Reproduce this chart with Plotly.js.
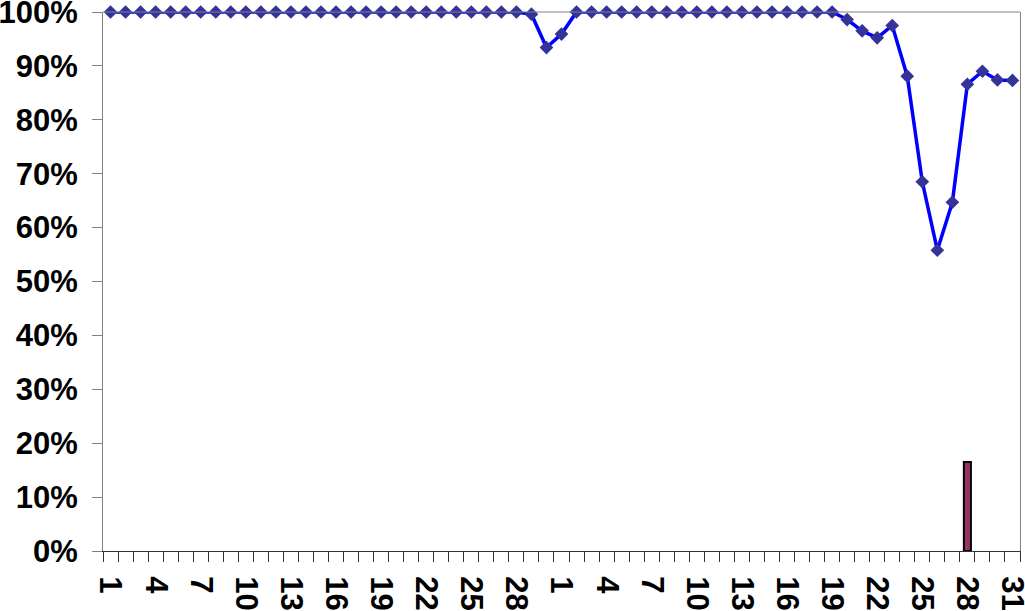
<!DOCTYPE html>
<html>
<head>
<meta charset="utf-8">
<script src="https://cdn.plot.ly/plotly-3.0.1.min.js"></script>
<style>
html,body{margin:0;padding:0;background:#fff;}
#chart{width:1025px;height:611px;}
</style>
</head>
<body>
<div id="chart"></div>
<script>
// Day labels: first month (30 days) then second month (31 days)
const month1Days = [1,2,3,4,5,6,7,8,9,10,11,12,13,14,15,16,17,18,19,20,21,22,23,24,25,26,27,28,29,30];
const month2Days = [1,2,3,4,5,6,7,8,9,10,11,12,13,14,15,16,17,18,19,20,21,22,23,24,25,26,27,28,29,30,31];
const dayLabels = month1Days.concat(month2Days).map(String);

// Line series (percent)
const lineValues = [
  100,100,100,100,100,100,100,100,100,100,
  100,100,100,100,100,100,100,100,100,100,
  100,100,100,100,100,100,100,100,99.6,93.4,
  95.9,100,100,100,100,100,100,100,100,100,
  100,100,100,100,100,100,100,100,100,98.6,
  96.5,95.2,97.5,88.1,68.5,55.8,64.7,86.6,89.0,87.4,
  87.3
];

// Bar series (percent), only one day has a value
const barDayIndex = 57;
const barValue = 16.5;

// Y tick values (fractions)
const yTicks = [0, 0.1, 0.2, 0.3, 0.4, 0.5, 0.6, 0.7, 0.8, 0.9, 1.0];
const yTickText = ['0%','10%','20%','30%','40%','50%','60%','70%','80%','90%','100%'];

const idx = dayLabels.map((_, i) => i);
const barValues = idx.map(i => (i === barDayIndex ? barValue / 100 : null));
const lineFrac = lineValues.map(v => v / 100);

const tickIdx = idx.filter(i => (i < 30 ? i % 3 === 0 : (i - 30) % 3 === 0));
const tickTxt = tickIdx.map(i => dayLabels[i]);

const FAM = '"Liberation Sans", Arial, sans-serif';

const data = [
  {
    type: 'bar', x: idx, y: barValues, width: 0.47,
    marker: {color: '#993366', line: {color: '#000', width: 2}},
    hoverinfo: 'skip', showlegend: false
  },
  {
    type: 'scatter', mode: 'lines+markers', x: idx, y: lineFrac,
    line: {color: '#0000FF', width: 3.5},
    marker: {symbol: 'diamond', size: 10.5, color: '#333399'},
    cliponaxis: false,
    showlegend: false
  }
];

const layout = {
  width: 1025, height: 611,
  margin: {l: 103, r: 5, t: 12, b: 60},
  paper_bgcolor: '#fff', plot_bgcolor: '#fff',
  font: {family: FAM, size: 31, color: '#000'},
  xaxis: {
    range: [-0.5, 60.5],
    tickmode: 'array', tickvals: tickIdx, ticktext: tickTxt,
    tickangle: 90, ticks: '', showgrid: false, zeroline: false,
    showline: true, linecolor: '#333', linewidth: 1,
    tickfont: {family: FAM, size: 31, color: '#000', weight: 'bold'},
    minor: {tick0: -0.5, dtick: 1, ticks: 'outside', ticklen: 10, tickcolor: '#333', tickwidth: 1, showgrid: false},
    ticklabelstandoff: 18,
    ticklabeloverflow: 'allow',
    fixedrange: true
  },
  yaxis: {
    range: [0, 1], tickmode: 'array', tickvals: yTicks, ticktext: yTickText,
    ticks: 'outside', ticklen: 10, tickcolor: '#808080', tickwidth: 1,
    showline: true, linecolor: '#808080', linewidth: 1, mirror: true,
    showgrid: false, zeroline: false,
    tickfont: {family: FAM, size: 31, color: '#000', weight: 'bold'},
    ticklabelstandoff: 8,
    ticklabeloverflow: 'allow',
    fixedrange: true
  },
  shapes: [
    {type: 'line', xref: 'paper', yref: 'paper', x0: 0, x1: 1, y0: 1, y1: 1,
     line: {color: '#808080', width: 1}}
  ],
  bargap: 0
};

Plotly.newPlot('chart', data, layout, {displayModeBar: false, staticPlot: true});
</script>
</body>
</html>
